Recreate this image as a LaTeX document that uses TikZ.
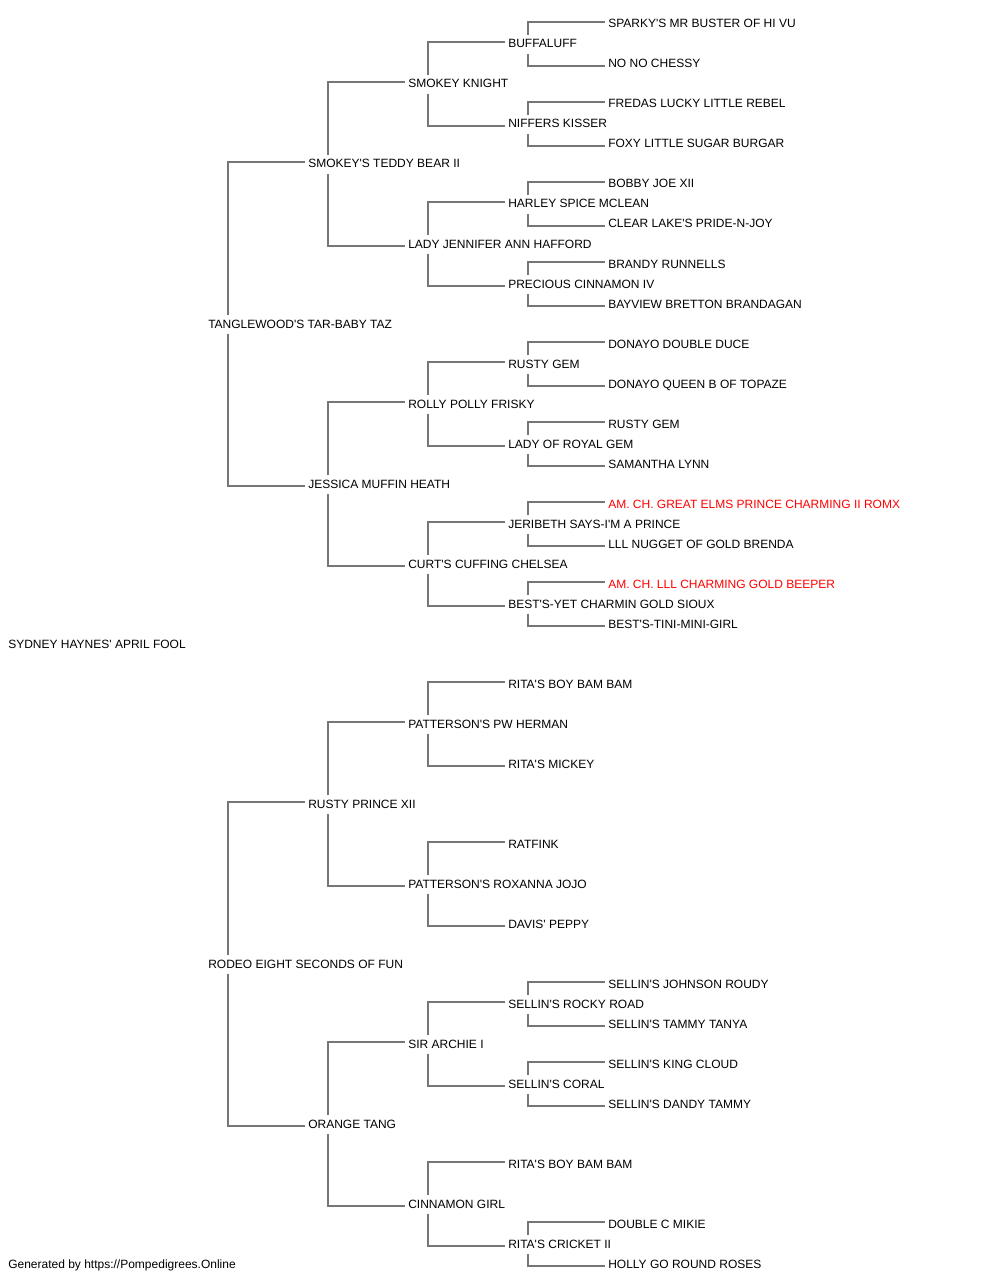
\documentclass[tikz,border=0pt]{standalone}
\usepackage{fontspec}
\setmainfont{Liberation Sans}[Ligatures=TeXOff]
\usetikzlibrary{calc}
\definecolor{linkgray}{RGB}{118,118,118}
\definecolor{chred}{RGB}{255,0,0}
\newcommand\pedup[2]{\draw[link] ($(#1.base west)+(20,-13)$) |- ($(#2.base west)+(-3,-6)$);}
\newcommand\peddn[2]{\draw[link] ($(#1.base west)+(20,6)$) |- ($(#2.base west)+(-3,-2)$);}
\begin{document}
\begin{tikzpicture}[x=0.75pt,y=-0.75pt,
  lbl/.style={anchor=base west,inner sep=0pt,font=\fontsize{9pt}{11pt}\selectfont,text=black},
  champ/.style={lbl,text=chred},
  link/.style={draw=linkgray,line width=1.45pt}]
\useasboundingbox[fill=white] (0,0) rectangle (1000,1280);
% generation 0
\node[lbl] (r31) at (8,648) {SYDNEY HAYNES' APRIL FOOL};
% generation 1
\node[lbl] (r15) at (208,328) {TANGLEWOOD'S TAR-BABY TAZ};
\node[lbl] (r47) at (208,968) {RODEO EIGHT SECONDS OF FUN};
% generation 2
\node[lbl] (r7)  at (308,168) {SMOKEY'S TEDDY BEAR II};
\node[lbl] (r23) at (308,488) {JESSICA MUFFIN HEATH};
\node[lbl] (r39) at (308,808) {RUSTY PRINCE XII};
\node[lbl] (r55) at (308,1128) {ORANGE TANG};
% generation 3
\node[lbl] (r3)  at (408,88) {SMOKEY KNIGHT};
\node[lbl] (r11) at (408,248) {LADY JENNIFER ANN HAFFORD};
\node[lbl] (r19) at (408,408) {ROLLY POLLY FRISKY};
\node[lbl] (r27) at (408,568) {CURT'S CUFFING CHELSEA};
\node[lbl] (r35) at (408,728) {PATTERSON'S PW HERMAN};
\node[lbl] (r43) at (408,888) {PATTERSON'S ROXANNA JOJO};
\node[lbl] (r51) at (408,1048) {SIR ARCHIE I};
\node[lbl] (r59) at (408,1208) {CINNAMON GIRL};
% generation 4
\node[lbl] (r1)  at (508,48) {BUFFALUFF};
\node[lbl] (r5)  at (508,128) {NIFFERS KISSER};
\node[lbl] (r9)  at (508,208) {HARLEY SPICE MCLEAN};
\node[lbl] (r13) at (508,288) {PRECIOUS CINNAMON IV};
\node[lbl] (r17) at (508,368) {RUSTY GEM};
\node[lbl] (r21) at (508,448) {LADY OF ROYAL GEM};
\node[lbl] (r25) at (508,528) {JERIBETH SAYS-I'M A PRINCE};
\node[lbl] (r29) at (508,608) {BEST'S-YET CHARMIN GOLD SIOUX};
\node[lbl] (r33) at (508,688) {RITA'S BOY BAM BAM};
\node[lbl] (r37) at (508,768) {RITA'S MICKEY};
\node[lbl] (r41) at (508,848) {RATFINK};
\node[lbl] (r45) at (508,928) {DAVIS' PEPPY};
\node[lbl] (r49) at (508,1008) {SELLIN'S ROCKY ROAD};
\node[lbl] (r53) at (508,1088) {SELLIN'S CORAL};
\node[lbl] (r57) at (508,1168) {RITA'S BOY BAM BAM};
\node[lbl] (r61) at (508,1248) {RITA'S CRICKET II};
% generation 5
\node[lbl] (r0)  at (608,28) {SPARKY'S MR BUSTER OF HI VU};
\node[lbl] (r2)  at (608,68) {NO NO CHESSY};
\node[lbl] (r4)  at (608,108) {FREDAS LUCKY LITTLE REBEL};
\node[lbl] (r6)  at (608,148) {FOXY LITTLE SUGAR BURGAR};
\node[lbl] (r8)  at (608,188) {BOBBY JOE XII};
\node[lbl] (r10) at (608,228) {CLEAR LAKE'S PRIDE-N-JOY};
\node[lbl] (r12) at (608,268) {BRANDY RUNNELLS};
\node[lbl] (r14) at (608,308) {BAYVIEW BRETTON BRANDAGAN};
\node[lbl] (r16) at (608,348) {DONAYO DOUBLE DUCE};
\node[lbl] (r18) at (608,388) {DONAYO QUEEN B OF TOPAZE};
\node[lbl] (r20) at (608,428) {RUSTY GEM};
\node[lbl] (r22) at (608,468) {SAMANTHA LYNN};
\node[champ] (r24) at (608,508) {AM. CH. GREAT ELMS PRINCE CHARMING II ROMX};
\node[lbl] (r26) at (608,548) {LLL NUGGET OF GOLD BRENDA};
\node[champ] (r28) at (608,588) {AM. CH. LLL CHARMING GOLD BEEPER};
\node[lbl] (r30) at (608,628) {BEST'S-TINI-MINI-GIRL};
\node[lbl] (r48) at (608,988) {SELLIN'S JOHNSON ROUDY};
\node[lbl] (r50) at (608,1028) {SELLIN'S TAMMY TANYA};
\node[lbl] (r52) at (608,1068) {SELLIN'S KING CLOUD};
\node[lbl] (r54) at (608,1108) {SELLIN'S DANDY TAMMY};
\node[lbl] (r60) at (608,1228) {DOUBLE C MIKIE};
\node[lbl] (r62) at (608,1268) {HOLLY GO ROUND ROSES};
% footer
\node[lbl] (foot) at (8,1268) {Generated by https://Pompedigrees.Online};
% connectors
\pedup{r15}{r7}  \peddn{r15}{r23}
\pedup{r47}{r39} \peddn{r47}{r55}
\pedup{r7}{r3}   \peddn{r7}{r11}
\pedup{r23}{r19} \peddn{r23}{r27}
\pedup{r39}{r35} \peddn{r39}{r43}
\pedup{r55}{r51} \peddn{r55}{r59}
\pedup{r3}{r1}   \peddn{r3}{r5}
\pedup{r11}{r9}  \peddn{r11}{r13}
\pedup{r19}{r17} \peddn{r19}{r21}
\pedup{r27}{r25} \peddn{r27}{r29}
\pedup{r35}{r33} \peddn{r35}{r37}
\pedup{r43}{r41} \peddn{r43}{r45}
\pedup{r51}{r49} \peddn{r51}{r53}
\pedup{r59}{r57} \peddn{r59}{r61}
\pedup{r1}{r0}   \peddn{r1}{r2}
\pedup{r5}{r4}   \peddn{r5}{r6}
\pedup{r9}{r8}   \peddn{r9}{r10}
\pedup{r13}{r12} \peddn{r13}{r14}
\pedup{r17}{r16} \peddn{r17}{r18}
\pedup{r21}{r20} \peddn{r21}{r22}
\pedup{r25}{r24} \peddn{r25}{r26}
\pedup{r29}{r28} \peddn{r29}{r30}
\pedup{r49}{r48} \peddn{r49}{r50}
\pedup{r53}{r52} \peddn{r53}{r54}
\pedup{r61}{r60} \peddn{r61}{r62}
\end{tikzpicture}
\end{document}
